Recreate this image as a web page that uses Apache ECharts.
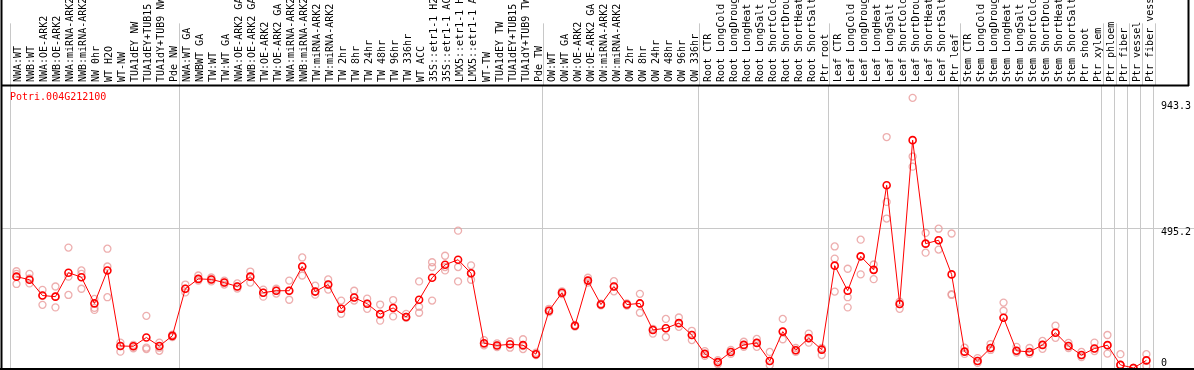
<!DOCTYPE html>
<html lang="en">
<head>
<meta charset="UTF-8">
<title>Potri.004G212100</title>
<script src="https://cdn.jsdelivr.net/npm/echarts@6/dist/echarts.min.js"></script>
<style>
  html, body { margin: 0; padding: 0; background: #fff; }
  #main { width: 1194px; height: 370px; }
</style>
</head>
<body>
<div id="main"></div>
<script>
// sample names, in plot order
var samples = [
  'NWA:WT', 'NWB:WT', 'NWA:OE-ARK2', 'NWB:OE-ARK2', 'NWA:miRNA-ARK2', 'NWB:miRNA-ARK2',
  'NW 0hr', 'WT H2O', 'WT-NW', 'TUA1dEY NW', 'TUA1dEY+TUB15 NW', 'TUA1dY+TUB9 NW', 'Pde NW',
  'NWA:WT GA', 'NWBWT GA', 'TW:WT', 'TW:WT GA', 'NWA:OE-ARK2 GA', 'NWB:OE-ARK2 GA',
  'TW:OE-ARK2', 'TW:OE-ARK2 GA', 'NWA:miRNA-ARK2 GA', 'NWB:miRNA-ARK2 GA', 'TW:miRNA-ARK2',
  'TW:miRNA-ARK2 GA', 'TW 2hr', 'TW 8hr', 'TW 24hr', 'TW 48hr', 'TW 96hr', 'TW 336hr', 'WT ACC',
  '35S::etr1-1 H2O', '35S::etr1-1 ACC', 'LMX5::etr1-1 H2O', 'LMX5::etr1-1 ACC', 'WT-TW',
  'TUA1dEY TW', 'TUA1dEY+TUB15 TW', 'TUA1dY+TUB9 TW', 'Pde TW',
  'OW:WT', 'OW:WT GA', 'OW:OE-ARK2', 'OW:OE-ARK2 GA', 'OW:miRNA-ARK2', 'OW:miRNA-ARK2 GA',
  'OW 2hr', 'OW 8hr', 'OW 24hr', 'OW 48hr', 'OW 96hr', 'OW 336hr',
  'Root CTR', 'Root LongCold', 'Root LongDrought', 'Root LongHeat', 'Root LongSalt',
  'Root ShortCold', 'Root ShortDrought', 'Root ShortHeat', 'Root ShortSalt', 'Ptr root',
  'Leaf CTR', 'Leaf LongCold', 'Leaf LongDrought', 'Leaf LongHeat', 'Leaf LongSalt',
  'Leaf ShortCold', 'Leaf ShortDrought', 'Leaf ShortHeat', 'Leaf ShortSalt', 'Ptr leaf',
  'Stem CTR', 'Stem LongCold', 'Stem LongDrought', 'Stem LongHeat', 'Stem LongSalt',
  'Stem ShortCold', 'Stem ShortDrought', 'Stem ShortHeat', 'Stem ShortSalt', 'Ptr shoot', 'Ptr xylem',
  'Ptr phloem', 'Ptr fiber', 'Ptr vessel', 'Ptr fiber vessel'
];
// how many samples each experiment block holds (gray separators between blocks)
var groupSizes = [13, 28, 12, 10, 10, 11, 1, 1, 1, 1];

// mean expression
var meanValues = [
  324, 313, 257, 253, 338, 322, 229, 346, 78, 77, 108, 78, 114,
  281, 316, 314, 303, 289, 324, 267, 274, 274, 360, 271, 296, 210, 250, 228, 191, 213, 181,
  242, 320, 366, 384, 336, 88, 80, 84, 81, 49,
  203, 267, 150, 310, 225, 289, 225, 229, 135, 141, 159, 117,
  50, 21, 57, 82, 89, 25, 129, 63, 106, 65,
  363, 274, 396, 348, 648, 227, 808, 441, 453, 332,
  58, 25, 71, 178, 61, 57, 82, 125, 78, 46, 69,
  81, 11, 0, 27
];
// replicates
var rep1 = [
  343, 334, 277, 289, 427, 346, 245, 423, 90, 82, 185, 90, 118,
  296, 328, 321, 296, 300, 342, 278, 281, 310, 392, 292, 314, 239, 274, 246, 225, 241, 192,
  307, 375, 398, 487, 364, 99, 87, 94, 102, 54,
  210, 272, 153, 320, 228, 308, 229, 263, 139, 174, 179, 132,
  60, 28, 64, 93, 103, 57, 174, 71, 122, 71,
  431, 352, 455, 367, 819, 235, 958, 479, 494, 477,
  72, 35, 85, 232, 75, 71, 96, 150, 89, 57, 90,
  117, 49, 0, 49
];
var rep2 = [
  334, 300, 224, 215, 324, 281, 213, 360, 58, 70, 72, 61, 110,
  268, 310, 307, 310, 289, 303, 253, 264, 242, 328, 260, 278, 192, 239, 210, 168, 183, 178,
  217, 358, 346, 358, 313, 80, 74, 72, 67, 46,
  198, 262, 147, 303, 222, 272, 221, 196, 122, 110, 146, 99,
  43, 14, 50, 75, 75, 10, 102, 57, 90, 46,
  388, 251, 332, 315, 589, 210, 750, 409, 420, 259,
  50, 18, 64, 203, 55, 50, 68, 107, 71, 39, 60,
  51, 11, 0, 7
];
var rep3 = [
  298, 318, 257, 253, 259, 334, 206, 251, 78, 77, 67, 72, 114,
  281, 316, 314, 303, 282, 324, 267, 274, 274, 360, 271, 296, 210, 250, 228, 191, 213, 181,
  196, 239, 358, 307, 336, 85, 80, 84, 78, 49,
  203, 267, 150, 310, 225, 289, 225, 229, 135, 141, 159, 117,
  50, 21, 57, 82, 89, 25, 129, 63, 106, 65,
  271, 215, 396, 348, 530, 227, 714, 441, 453, 262,
  58, 25, 71, 178, 61, 57, 82, 125, 78, 46, 69,
  81, 11, 0, 27
];
// labels on the right axis
var yTicks = [0, 495.2, 943.3];
var yMax = 1000;

var chart = echarts.init(document.getElementById('main'));

var mono = 'DejaVu Sans Mono';
var sepColor = '#c8c8c8';

// first index of each block
var groupStarts = [];
var acc = 0;
groupSizes.forEach(function (n) { groupStarts.push(acc); acc += n; });
function isBlockStart(idx) { return groupStarts.indexOf(idx) >= 0; }

// layout
var plotLeft = 10, plotWidth = 1145;
var labelH = 86;
var plotTop = 86, plotH = 282;
// the gridline grid goes from the 495.2 level down to 0, full width
var lineTop = plotTop + plotH * (1 - yTicks[1] / yMax);

var option = {
  animation: false,
  backgroundColor: '#fff',
  title: {
    text: 'Potri.004G212100',
    left: 10,
    top: 92,
    padding: 0,
    textStyle: { color: '#ff0000', fontSize: 10, fontWeight: 'normal', fontFamily: mono }
  },
  grid: [
    { left: plotLeft, width: plotWidth, top: 0, height: labelH },
    { left: plotLeft, width: plotWidth, top: plotTop, height: plotH },
    { left: 2, right: 0, top: lineTop, height: plotTop + plotH - lineTop }
  ],
  xAxis: [
    {
      gridIndex: 0, type: 'category', data: samples, boundaryGap: true,
      axisLine: { show: false }, axisTick: { show: false },
      axisLabel: {
        inside: true, rotate: 90, interval: 0, margin: 4,
        formatter: function (name) { return '{s|' + name + '}'; },
        rich: {
          // pushes the rotated text a little to the right of the band centre
          s: { padding: [4, 0, 0, 0], fontFamily: mono, fontSize: 10, color: '#000' }
        }
      },
      splitLine: { show: true, interval: isBlockStart, lineStyle: { color: sepColor, width: 1 } }
    },
    {
      gridIndex: 1, type: 'category', data: samples, boundaryGap: true,
      axisLine: { show: false }, axisTick: { show: false }, axisLabel: { show: false },
      splitLine: { show: true, interval: isBlockStart, lineStyle: { color: sepColor, width: 1 } }
    },
    { gridIndex: 2, type: 'value', show: false }
  ],
  yAxis: [
    { gridIndex: 0, type: 'value', show: false },
    {
      gridIndex: 1, type: 'value', min: 0, max: yMax, position: 'right',
      axisLine: { show: false }, axisTick: { show: false }, splitLine: { show: false },
      axisLabel: {
        customValues: yTicks,
        margin: 8,
        align: 'left',
        formatter: function (v) { return v === 0 ? '{z|0}' : '{t|' + v + '}'; },
        rich: {
          t: { padding: [8, 0, 0, 0], fontFamily: mono, fontSize: 10, color: '#000' },
          z: { padding: [0, 0, 9, 0], fontFamily: mono, fontSize: 10, color: '#000' }
        }
      }
    },
    {
      gridIndex: 2, type: 'value', min: 0, max: yTicks[1], interval: yTicks[1],
      axisLine: { show: false }, axisTick: { show: false }, axisLabel: { show: false },
      splitLine: { show: true, lineStyle: { color: sepColor, width: 1 } }
    }
  ],
  series: [rep1, rep2, rep3].map(function (r) {
    return {
      type: 'scatter', xAxisIndex: 1, yAxisIndex: 1, data: r,
      symbol: 'circle', symbolSize: 7, silent: true, clip: false,
      itemStyle: { color: 'rgba(0,0,0,0)', borderColor: '#e89a9a', borderWidth: 1.3 }
    };
  }).concat([{
    type: 'line', xAxisIndex: 1, yAxisIndex: 1, data: meanValues,
    symbol: 'circle', symbolSize: 7, showAllSymbol: true, clip: false, z: 5,
    lineStyle: { color: '#ff0000', width: 1 },
    itemStyle: { color: 'rgba(0,0,0,0)', borderColor: '#ff0000', borderWidth: 1.6 }
  }]),
  // black frame
  graphic: [
    { type: 'line', z: 100, shape: { x1: 1.5, y1: 0, x2: 1.5, y2: 370 }, style: { stroke: '#000', lineWidth: 2 } },
    { type: 'line', z: 100, shape: { x1: 1, y1: 85.5, x2: 1189, y2: 85.5 }, style: { stroke: '#000', lineWidth: 2 } },
    { type: 'line', z: 100, shape: { x1: 1188.5, y1: 0, x2: 1188.5, y2: 86 }, style: { stroke: '#000', lineWidth: 2 } },
    { type: 'line', z: 100, shape: { x1: 0, y1: 369, x2: 1194, y2: 369 }, style: { stroke: '#000', lineWidth: 2 } }
  ]
};

chart.setOption(option);
</script>
</body>
</html>
